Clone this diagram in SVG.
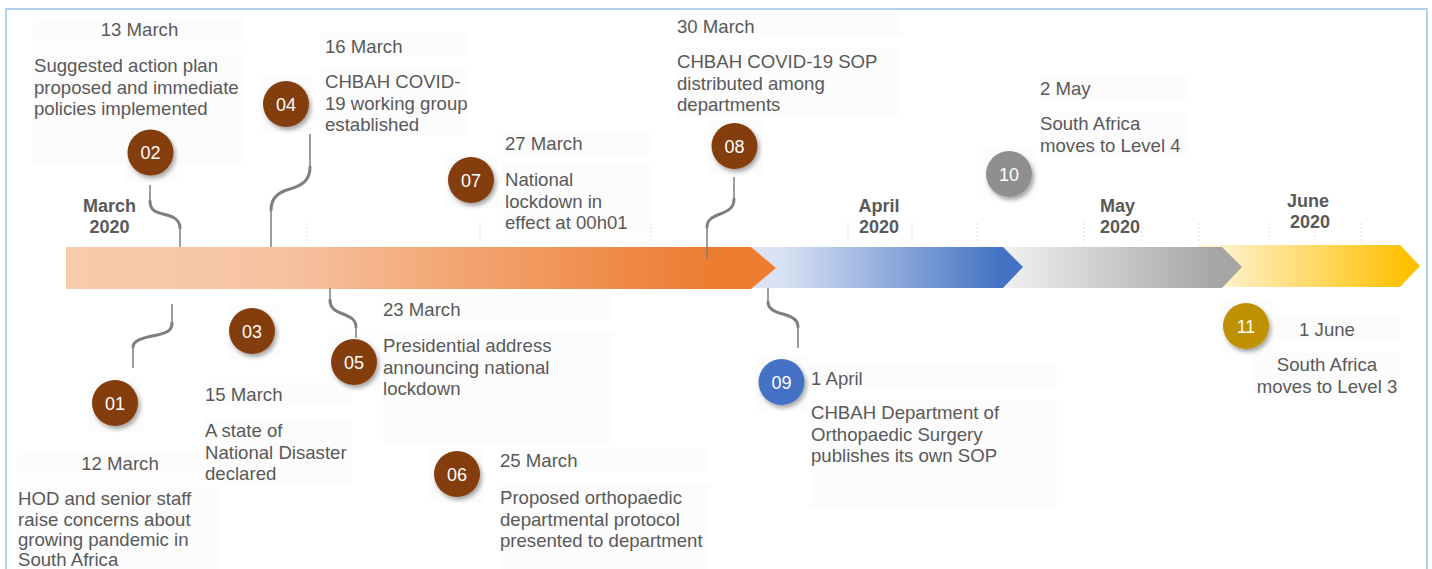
<svg xmlns="http://www.w3.org/2000/svg" width="1432" height="569" viewBox="0 0 1432 569">
  <style>
    .lbl { font-family: "Liberation Sans", Arial, sans-serif; font-size: 18.6px; fill: #595959; }
    .mid { text-anchor: middle; }
    .month { font-family: "Liberation Sans", Arial, sans-serif; font-size: 18px; font-weight: bold; fill: #595959; }
    .num { font-family: "Liberation Sans", Arial, sans-serif; font-size: 18px; fill: #ffffff; text-anchor: middle; }
    .box { fill: #fcfcfc; }
    .tick { stroke: #d9d9d9; stroke-width: 1; stroke-dasharray: 2 2; fill: none; }
    .stem { stroke: #7f7f7f; stroke-width: 1.5; fill: none; }
    .bend { stroke: #7f7f7f; stroke-width: 3; fill: none; stroke-linecap: round; }
  </style>
  <defs>
    <linearGradient id="gMar" x1="66" y1="0" x2="776" y2="0" gradientUnits="userSpaceOnUse">
      <stop offset="0" stop-color="#f8cbad"/>
      <stop offset="0.3" stop-color="#f6c3a2"/>
      <stop offset="0.9" stop-color="#ed7d31"/>
    </linearGradient>
    <linearGradient id="gApr" x1="752" y1="0" x2="1023" y2="0" gradientUnits="userSpaceOnUse">
      <stop offset="0.1" stop-color="#dae3f3"/>
      <stop offset="0.92" stop-color="#4472c4"/>
    </linearGradient>
    <linearGradient id="gMay" x1="1000" y1="0" x2="1242" y2="0" gradientUnits="userSpaceOnUse">
      <stop offset="0" stop-color="#f2f2f2"/>
      <stop offset="0.9" stop-color="#a5a5a5"/>
    </linearGradient>
    <linearGradient id="gJun" x1="1198" y1="0" x2="1420" y2="0" gradientUnits="userSpaceOnUse">
      <stop offset="0.1" stop-color="#fff2cc"/>
      <stop offset="0.95" stop-color="#ffc000"/>
    </linearGradient>
    <filter id="shadow" x="-30%" y="-30%" width="170%" height="170%">
      <feDropShadow dx="2" dy="3" stdDeviation="2" flood-color="#000" flood-opacity="0.35"/>
    </filter>
  </defs>

  <!-- frame -->
  <rect x="6" y="9" width="1421" height="600" fill="#ffffff" stroke="#9dc3e6" stroke-width="1.5"/>

  <!-- faint backing panels behind labels -->
  <g id="panels">
    <rect class="box" x="33" y="18" width="212" height="23"/>
    <rect class="box" x="33" y="55" width="212" height="108"/>
    <rect class="box" x="125" y="127" width="52" height="55"/>
    <rect class="box" x="320" y="33" width="148" height="23"/>
    <rect class="box" x="320" y="68" width="148" height="68"/>
    <rect class="box" x="260" y="78" width="53" height="54"/>
    <rect class="box" x="503" y="130" width="147" height="24"/>
    <rect class="box" x="503" y="165" width="147" height="68"/>
    <rect class="box" x="445" y="155" width="53" height="53"/>
    <rect class="box" x="677" y="15" width="225" height="20"/>
    <rect class="box" x="677" y="48" width="225" height="70"/>
    <rect class="box" x="707" y="120" width="55" height="55"/>
    <rect class="box" x="1040" y="76" width="147" height="23"/>
    <rect class="box" x="1040" y="112" width="147" height="43"/>
    <rect class="box" x="983" y="147" width="54" height="53"/>
    <rect class="box" x="17" y="450" width="205" height="23"/>
    <rect class="box" x="17" y="487" width="205" height="82"/>
    <rect class="box" x="89" y="377" width="54" height="55"/>
    <rect class="box" x="205" y="383" width="147" height="22"/>
    <rect class="box" x="205" y="418" width="147" height="65"/>
    <rect class="box" x="227" y="305" width="53" height="53"/>
    <rect class="box" x="383" y="296" width="231" height="24"/>
    <rect class="box" x="383" y="333" width="231" height="109"/>
    <rect class="box" x="328" y="335" width="52" height="55"/>
    <rect class="box" x="500" y="449" width="210" height="23"/>
    <rect class="box" x="500" y="485" width="210" height="84"/>
    <rect class="box" x="430" y="448" width="53" height="54"/>
    <rect class="box" x="810" y="365" width="247" height="23"/>
    <rect class="box" x="810" y="400" width="247" height="108"/>
    <rect class="box" x="755" y="356" width="53" height="54"/>
    <rect class="box" x="1268" y="317" width="132" height="23"/>
    <rect class="box" x="1253" y="353" width="147" height="44"/>
    <rect class="box" x="1220" y="300" width="53" height="53"/>
  </g>

  <!-- dashed ticks above the bar -->
  <g id="ticks">
    <path class="tick" d="M307,223V243M480,223V243M651,223V243M848,223V242M912,223V242M977,223V242M1084,223V242M1142,223V242M1199,223V241M1269,223V241M1315,223V241M1361,223V241"/>
  </g>

  <!-- month bands -->
  <g id="bands">
    <path d="M1198,245H1400L1420,266L1400,287H1198Z" fill="url(#gJun)"/>
    <path d="M1000,247H1222L1242,267L1222,288H1000Z" fill="url(#gMay)"/>
    <path d="M752,247H1003L1023,267L1003,288H752Z" fill="url(#gApr)"/>
    <path d="M66,247H751L776,268L751,289H66Z" fill="url(#gMar)"/>
  </g>

  <!-- month labels -->
  <g id="months">
    <text class="month" x="109.5" y="212" text-anchor="middle">March</text>
    <text class="month" x="109.5" y="233" text-anchor="middle">2020</text>
    <text class="month" x="879" y="212" text-anchor="middle">April</text>
    <text class="month" x="879" y="233" text-anchor="middle">2020</text>
    <text class="month" x="1100" y="212">May</text>
    <text class="month" x="1100" y="233">2020</text>
    <text class="month" x="1308" y="207" text-anchor="middle">June</text>
    <text class="month" x="1310" y="228" text-anchor="middle">2020</text>
  </g>

  <!-- connectors from the bar to the milestones -->
  <g id="connectors">
    <path class="stem" d="M150,185V201C150,210 155,212 163,214C172,216 180,219 180,228V247"/>
    <path class="bend" d="M150,201C150,210 155,212 163,214C172,216 180,219 180,228"/>
    <path class="stem" d="M310,134V167C310,180 303,185 290,189C278,192 271,199 271,210V247"/>
    <path class="bend" d="M310,167C310,180 303,185 290,189C278,192 271,199 271,210"/>
    <path class="stem" d="M734,177V199C734,208 728,211 720,214C712,217 707,220 707,227V258"/>
    <path class="bend" d="M734,199C734,208 728,211 720,214C712,217 707,220 707,227"/>
    <path class="stem" d="M172,304V323C172,331 166,333 157,335C141,338 133,341 133,347V368"/>
    <path class="bend" d="M172,323C172,331 166,333 157,335C141,338 133,341 133,347"/>
    <path class="stem" d="M330,288V300C330,308 335,311 343,314C351,317 356,320 356,327V338"/>
    <path class="bend" d="M330,300C330,308 335,311 343,314C351,317 356,320 356,327"/>
    <path class="stem" d="M768,288V302C768,309 774,312 783,314C793,317 798,320 798,327V348"/>
    <path class="bend" d="M768,302C768,309 774,312 783,314C793,317 798,320 798,327"/>
  </g>

  <!-- milestones -->
  <g id="m01">
    <circle cx="115" cy="403" r="23" fill="#843c0c" filter="url(#shadow)"/>
    <text class="num" x="115" y="409.5">01</text>
    <text class="lbl mid" x="120" y="470">12 March</text>
    <text class="lbl" x="18" y="505">HOD and senior staff</text>
    <text class="lbl" x="18" y="525.5">raise concerns about</text>
    <text class="lbl" x="18" y="546">growing pandemic in</text>
    <text class="lbl" x="18" y="566">South Africa</text>
  </g>
  <g id="m02">
    <circle cx="150.5" cy="152.5" r="23" fill="#843c0c" filter="url(#shadow)"/>
    <text class="num" x="150.5" y="159">02</text>
    <text class="lbl mid" x="139.5" y="36">13 March</text>
    <text class="lbl" x="34" y="72">Suggested action plan</text>
    <text class="lbl" x="34" y="93.5">proposed and immediate</text>
    <text class="lbl" x="34" y="115">policies implemented</text>
  </g>
  <g id="m03">
    <circle cx="252" cy="331" r="23" fill="#843c0c" filter="url(#shadow)"/>
    <text class="num" x="252" y="337.5">03</text>
    <text class="lbl" x="205" y="401">15 March</text>
    <text class="lbl" x="205" y="437">A state of</text>
    <text class="lbl" x="205" y="458.5">National Disaster</text>
    <text class="lbl" x="205" y="480">declared</text>
  </g>
  <g id="m04">
    <circle cx="286" cy="104" r="23" fill="#843c0c" filter="url(#shadow)"/>
    <text class="num" x="286" y="110.5">04</text>
    <text class="lbl" x="325" y="53">16 March</text>
    <text class="lbl" x="325" y="88">CHBAH COVID-</text>
    <text class="lbl" x="325" y="109.5">19 working group</text>
    <text class="lbl" x="325" y="131">established</text>
  </g>
  <g id="m05">
    <circle cx="354" cy="362" r="23" fill="#843c0c" filter="url(#shadow)"/>
    <text class="num" x="354" y="368.5">05</text>
    <text class="lbl" x="383" y="316">23 March</text>
    <text class="lbl" x="383" y="352">Presidential address</text>
    <text class="lbl" x="383" y="373.5">announcing national</text>
    <text class="lbl" x="383" y="395">lockdown</text>
  </g>
  <g id="m06">
    <circle cx="457" cy="474" r="23" fill="#843c0c" filter="url(#shadow)"/>
    <text class="num" x="457" y="480.5">06</text>
    <text class="lbl" x="500" y="467">25 March</text>
    <text class="lbl" x="500" y="504">Proposed orthopaedic</text>
    <text class="lbl" x="500" y="525.5">departmental protocol</text>
    <text class="lbl" x="500" y="547">presented to department</text>
  </g>
  <g id="m07">
    <circle cx="471" cy="180" r="23" fill="#843c0c" filter="url(#shadow)"/>
    <text class="num" x="471" y="186.5">07</text>
    <text class="lbl" x="505" y="150">27 March</text>
    <text class="lbl" x="505" y="186">National</text>
    <text class="lbl" x="505" y="207.5">lockdown in</text>
    <text class="lbl" x="505" y="229">effect at 00h01</text>
  </g>
  <g id="m08">
    <circle cx="734.5" cy="146" r="23" fill="#843c0c" filter="url(#shadow)"/>
    <text class="num" x="734.5" y="152.5">08</text>
    <text class="lbl" x="677" y="33">30 March</text>
    <text class="lbl" x="677" y="68">CHBAH COVID-19 SOP</text>
    <text class="lbl" x="677" y="89.5">distributed among</text>
    <text class="lbl" x="677" y="111">departments</text>
  </g>
  <g id="m09">
    <circle cx="781.5" cy="382" r="23" fill="#4472c4" filter="url(#shadow)"/>
    <text class="num" x="781.5" y="388.5">09</text>
    <text class="lbl" x="811" y="385">1 April</text>
    <text class="lbl" x="811" y="419">CHBAH Department of</text>
    <text class="lbl" x="811" y="440.5">Orthopaedic Surgery</text>
    <text class="lbl" x="811" y="462">publishes its own SOP</text>
  </g>
  <g id="m10">
    <circle cx="1009" cy="174" r="23" fill="#8f8f8f" filter="url(#shadow)"/>
    <text class="num" x="1009" y="180.5">10</text>
    <text class="lbl" x="1040" y="95">2 May</text>
    <text class="lbl" x="1040" y="130">South Africa</text>
    <text class="lbl" x="1040" y="151.5">moves to Level 4</text>
  </g>
  <g id="m11">
    <circle cx="1246" cy="326" r="23" fill="#bf9000" filter="url(#shadow)"/>
    <text class="num" x="1246" y="332.5">11</text>
    <text class="lbl mid" x="1327" y="336">1 June</text>
    <text class="lbl mid" x="1327" y="371">South Africa</text>
    <text class="lbl mid" x="1327" y="392.5">moves to Level 3</text>
  </g>
</svg>
